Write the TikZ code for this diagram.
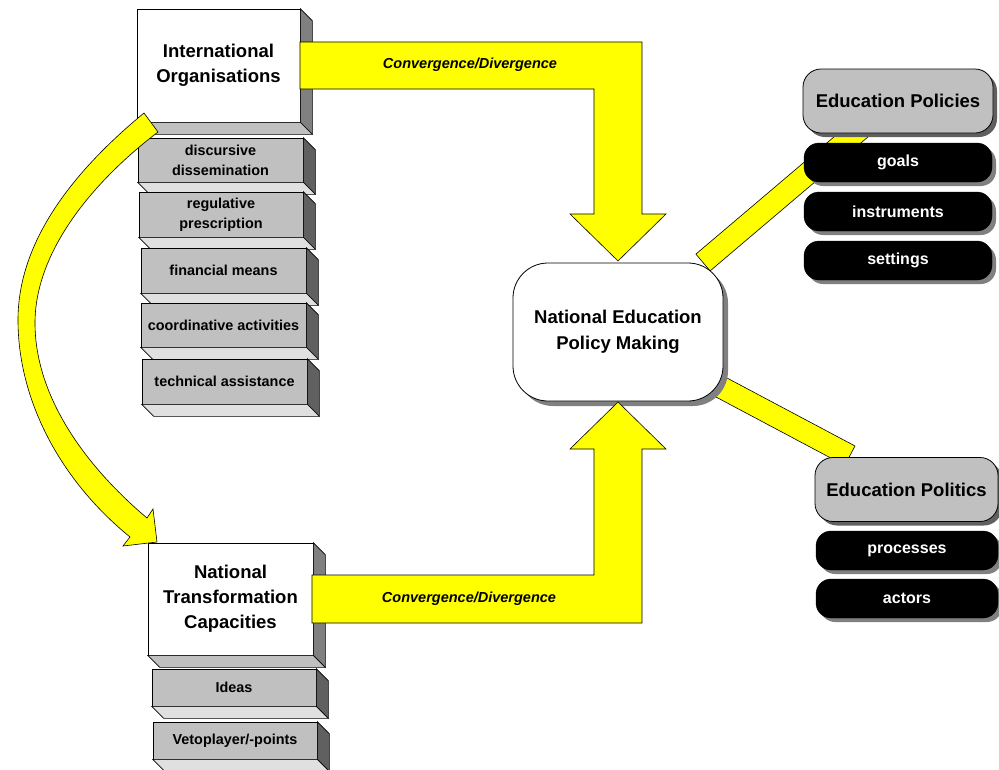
\documentclass[tikz,border=0pt]{standalone}
\usepackage{fontspec}
\setmainfont{Liberation Sans}
\usetikzlibrary{shadows,calc}
\definecolor{yel}{HTML}{FFFF00}
\definecolor{gA}{HTML}{C0C0C0}
\definecolor{gB}{HTML}{808080}
\definecolor{gC}{HTML}{606060}
\definecolor{gD}{HTML}{E0E0E0}
\tikzset{
  front/.style={draw=black, line width=0.7pt, inner sep=0pt, align=center},
  wfront/.style={front, fill=white, font=\bfseries\fontsize{18.5}{25}\selectfont},
  gfront/.style={front, fill=gA, font=\bfseries\fontsize{14.4}{20}\selectfont},
  wside/.style={draw=black, line width=0.7pt, fill=gB},
  wbottom/.style={draw=black, line width=0.7pt, fill=gA},
  gside/.style={draw=black, line width=0.7pt, fill=gC},
  gbottom/.style={draw=black, line width=0.7pt, fill=gD},
  band/.style={draw=black, line width=0.6pt, fill=yel},
  convlabel/.style={font=\bfseries\itshape\fontsize{14.5}{17}\selectfont},
  centrebox/.style={draw=black, line width=0.8pt, fill=white, rounded corners=35pt,
    minimum width=210pt, minimum height=138pt, align=center,
    font=\bfseries\fontsize{18.5}{26.5}\selectfont,
    drop shadow={shadow xshift=5pt, shadow yshift=-5pt, fill=gB, opacity=1}},
  headbox/.style={draw=black, line width=0.8pt, fill=gA, rounded corners=18pt,
    minimum height=64pt, font=\bfseries\fontsize{18.5}{22}\selectfont,
    drop shadow={shadow xshift=4pt, shadow yshift=-4pt, fill=gC, opacity=1}},
  itembox/.style={draw=black, fill=black, rounded corners=15pt,
    minimum height=39pt, text=white, font=\bfseries\fontsize{16}{19}\selectfont,
    drop shadow={shadow xshift=4pt, shadow yshift=-4pt, fill=gB, opacity=1}},
}
% 3D box: name, centre, width, height, kind (w/g), text
\newcommand\tdbox[6]{%
  \node[#5front, minimum width=#3pt, minimum height=#4pt] (#1) at (#2) {#6};
  \filldraw[#5side] (#1.north east) -- ++(12pt,-12pt) -- ($(#1.south east)+(12pt,-12pt)$) -- (#1.south east) -- cycle;
  \filldraw[#5bottom] (#1.south west) -- (#1.south east) -- ($(#1.south east)+(12pt,-12pt)$) -- ($(#1.south west)+(12pt,-12pt)$) -- cycle;
}
\begin{document}
\begin{tikzpicture}[x=1pt,y=-1pt]
\useasboundingbox (0,0) rectangle (999,769);

% bands behind the centre box and the right boxes
\filldraw[band] (695.9,254.1) -- (863.8,111.6) -- (878,128.4) -- (710.1,270.9) -- cycle;
\filldraw[band] (687.3,356.9) -- (855,446) -- (844.7,465.4) -- (677,376.3) -- cycle;

% centre
\node[centrebox] (nepm) at (618,332) {National Education\\Policy Making};

% right side
\node[headbox, minimum width=190pt] (policies) at (898,101) {Education Policies};
\node[itembox, minimum width=188pt] (goals) at (898,162.5) {goals};
\node[itembox, minimum width=188pt] (instruments) at (898,211.5) {instruments};
\node[itembox, minimum width=188pt] (settings) at (898,260.5) {settings};

\node[headbox, minimum width=183pt] (politics) at (906.5,489.5) {Education Politics};
\node[itembox, minimum width=182pt] (processes) at (907,550.5) {processes};
\node[itembox, minimum width=182pt] (actors) at (907,598.5) {actors};

% left side 3D boxes
\tdbox{io}{218.5,65.5}{163}{113}{w}{International\\Organisations}
\tdbox{disc}{220.5,160}{165}{44}{g}{discursive\\dissemination}
\tdbox{reg}{221,214.5}{164}{45}{g}{regulative\\prescription}
\tdbox{fin}{223.5,270.5}{165}{45}{g}{financial means}
\tdbox{coord}{223.5,325}{165}{44}{g}{coordinative activities}
\tdbox{tech}{224.5,381.5}{165}{45}{g}{technical assistance}
\tdbox{ntc}{230.5,599}{165}{112}{w}{National\\Transformation\\Capacities}
\tdbox{ideas}{234,687.5}{164}{37}{g}{Ideas}
\tdbox{veto}{235,740.5}{164}{37}{g}{Vetoplayer/-points}

% L-shaped arrows
\filldraw[band] (300,42) -- (642,42) -- (642,214) -- (666,214) -- (618,261) -- (570,214) -- (594,214) -- (594,89) -- (300,89) -- cycle;
\node[convlabel] (convtop) at (470,65) {Convergence/Divergence};
\filldraw[band] (312,623) -- (642,623) -- (642,449) -- (666,449) -- (618,402) -- (570,449) -- (594,449) -- (594,575) -- (312,575) -- cycle;
\node[convlabel] (convbottom) at (469,599) {Convergence/Divergence};

% curved arrow
\filldraw[band] (144,113) .. controls (75,170) and (18,240) .. (18,320)
  .. controls (18,400) and (60,480) .. (130,537) -- (123,546) -- (157,542) -- (153,509) -- (147,518)
  .. controls (90,470) and (35,400) .. (35,323) .. controls (35,250) and (95,180) .. (158,132) -- cycle;
\end{tikzpicture}
\end{document}
